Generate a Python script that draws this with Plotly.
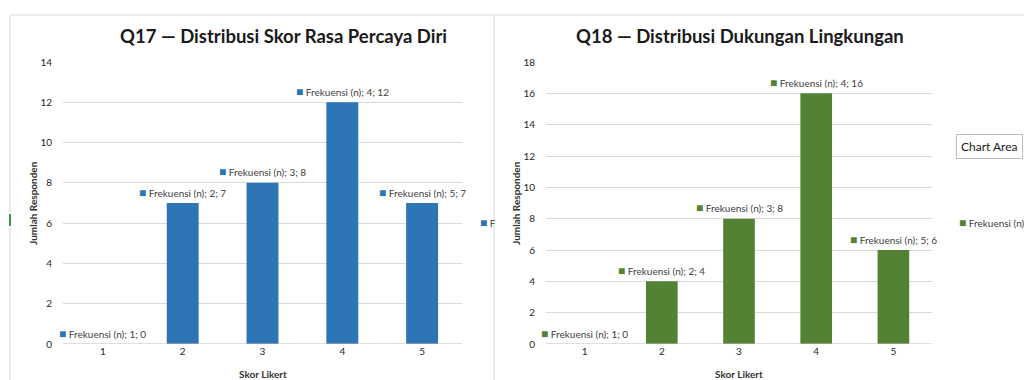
import plotly.graph_objects as go

categories = [1, 2, 3, 4, 5]
q17_values = [0, 7, 8, 12, 7]
q18_values = [0, 4, 8, 16, 6]
series_name = "Frekuensi (n)"
q17_title = "Q17 — Distribusi Skor Rasa Percaya Diri"
q18_title = "Q18 — Distribusi Dukungan Lingkungan"
x_title = "Skor Likert"
y_title = "Jumlah Responden"
q17_ticks = [0, 2, 4, 6, 8, 10, 12, 14]
q18_ticks = [0, 2, 4, 6, 8, 10, 12, 14, 16, 18]

BLUE = "#2E75B6"
GREEN = "#548235"
FONT = "Lato"
W, H = 1024, 380

def px_x(p):
    return p / W

def px_y(p):
    return 1 - p / H

fig = go.Figure()
fig.add_trace(go.Bar(x=categories, y=q17_values, marker=dict(color=BLUE, line=dict(width=0)),
                     width=0.4, xaxis="x", yaxis="y", name=series_name, showlegend=False,
                     hoverinfo="skip"))
fig.add_trace(go.Bar(x=categories, y=q18_values, marker=dict(color=GREEN, line=dict(width=0)),
                     width=0.41, xaxis="x2", yaxis="y2", name=series_name, showlegend=False,
                     hoverinfo="skip"))

ydom = [px_y(344), px_y(62)]
axis_common = dict(showline=False, zeroline=False, ticks="", fixedrange=True, automargin=False,
                   tickfont=dict(size=10, color="#262626", family=FONT))
fig.update_layout(
    width=W, height=H, margin=dict(l=0, r=0, t=0, b=0, autoexpand=False),
    paper_bgcolor="white", plot_bgcolor="white", showlegend=False,
    font=dict(family=FONT, size=10, color="#333333"),
    xaxis=dict(domain=[px_x(63), px_x(462)], range=[0.5, 5.5], tickvals=categories,
               showgrid=False, anchor="y", **axis_common),
    yaxis=dict(domain=ydom, range=[0, 14], tickvals=q17_ticks, showgrid=True,
               gridcolor="#D9D9D9", gridwidth=1, anchor="x", ticklabelstandoff=10, **axis_common),
    xaxis2=dict(domain=[px_x(546), px_x(932)], range=[0.5, 5.5], tickvals=categories,
                showgrid=False, anchor="y2", **axis_common),
    yaxis2=dict(domain=ydom, range=[0, 18], tickvals=q18_ticks, showgrid=True,
                gridcolor="#D9D9D9", gridwidth=1, anchor="x2", ticklabelstandoff=10, **axis_common),
)

shapes = [
    dict(type="line", xref="x domain", yref="y", x0=0, x1=1, y0=0, y1=0, line=dict(color="#BFBFBF", width=1)),
    dict(type="line", xref="x2 domain", yref="y2", x0=0, x1=1, y0=0, y1=0, line=dict(color="#BFBFBF", width=1)),
    dict(type="line", xref="paper", yref="paper", x0=px_x(10), x1=1, y0=px_y(15), y1=px_y(15),
         line=dict(color="#D9D9D9", width=1)),
    dict(type="line", xref="paper", yref="paper", x0=px_x(10), x1=px_x(10), y0=0, y1=px_y(15),
         line=dict(color="#D9D9D9", width=1)),
    dict(type="line", xref="paper", yref="paper", x0=px_x(494), x1=px_x(494), y0=0, y1=px_y(15),
         line=dict(color="#D9D9D9", width=1)),
    dict(type="rect", xref="paper", yref="paper", x0=px_x(9), x1=px_x(11), y0=px_y(226), y1=px_y(214),
         line=dict(width=0), fillcolor="#3C9B4A"),
]
fig.update_layout(shapes=shapes)

ann = []
SQ = "font-size:12px"
def label_text(color, cat, val):
    return (f"<span style='color:{color};{SQ}'>■</span> "
            f"{series_name}; {cat}; {val}")

lab_font = dict(size=10, color="#404040", family=FONT)
for c, v in zip(categories, q17_values):
    ann.append(dict(x=c, y=v, xref="x", yref="y", text=label_text(BLUE, c, v), showarrow=False,
                    xanchor="center", yanchor="middle", yshift=11, font=lab_font))
for c, v in zip(categories, q18_values):
    ann.append(dict(x=c, y=v, xref="x2", yref="y2", text=label_text(GREEN, c, v), showarrow=False,
                    xanchor="center", yanchor="middle", yshift=11, font=lab_font))

def pann(x, y, text, **kw):
    d = dict(x=px_x(x), y=px_y(y), xref="paper", yref="paper", text=text, showarrow=False,
             xanchor="center", yanchor="middle")
    d.update(kw)
    ann.append(d)

title_font = dict(size=18.5, color="#1A1A1A", family=FONT)
pann(283, 36, f"<b>{q17_title}</b>", font=title_font)
pann(740, 36, f"<b>{q18_title}</b>", font=title_font)
ax_font = dict(size=10, color="#333333", family=FONT)
for cx in (263, 739):
    pann(cx, 374, f"<b>{x_title}</b>", font=ax_font)
for cx in (33, 516):
    pann(cx, 203, f"<b>{y_title}</b>", textangle=-90, font=ax_font)
pann(478, 222, f"<span style='color:{BLUE};{SQ}'>■</span> F", xanchor="left", font=lab_font)
pann(957, 222, f"<span style='color:{GREEN};{SQ}'>■</span> {series_name}", xanchor="left",
     font=lab_font)
pann(956, 146, "Chart Area", xanchor="left", bgcolor="white", bordercolor="#BDBDBD",
     borderwidth=1, borderpad=4, font=dict(size=12, color="#222222", family=FONT))
fig.update_layout(annotations=ann)

fig.write_html("out.html")
